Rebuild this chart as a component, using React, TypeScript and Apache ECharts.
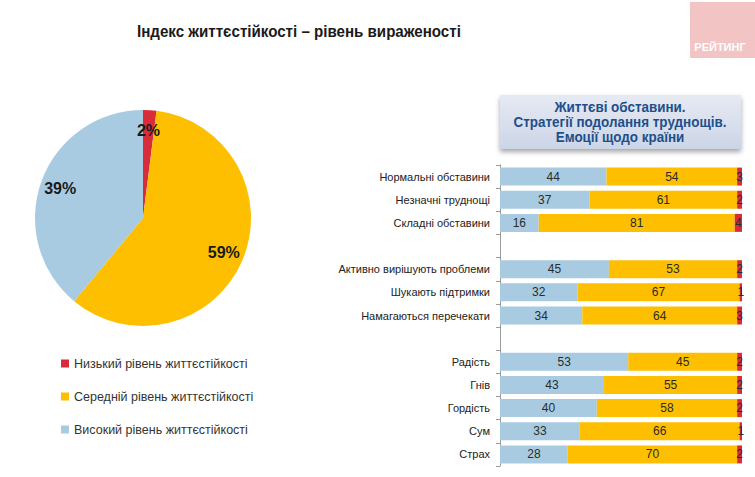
import React, { useEffect, useRef } from "react";
import * as echarts from "echarts";

const pieNames = [
  "Низький рівень життєстійкості",
  "Середній рівень життєстійкості",
  "Високий рівень життєстійкості",
];
const pieValues = [2, 59, 39];

const categories = [
  "Нормальні обставини",
  "Незначні труднощі",
  "Складні обставини",
  "",
  "Активно вирішують проблеми",
  "Шукають підтримки",
  "Намагаються перечекати",
  "",
  "Радість",
  "Гнів",
  "Гордість",
  "Сум",
  "Страх",
];
const highValues = [44, 37, 16, null, 45, 32, 34, null, 53, 43, 40, 33, 28];
const midValues = [54, 61, 81, null, 53, 67, 64, null, 45, 55, 58, 66, 70];
const lowValues = [3, 2, 4, null, 2, 1, 3, null, 2, 2, 2, 1, 2];

const RED = "#d92b3a";
const YELLOW = "#fdbf00";
const BLUE = "#a8cbe2";
const FONT = "'Liberation Sans', Arial, sans-serif";

export default function App() {
  const ref = useRef<HTMLDivElement>(null);
  useEffect(() => {
    const chart = echarts.init(ref.current!, null, { renderer: "svg" });
    const barLabel = {
      show: true,
      position: "inside" as const,
      color: "#2b2b2b",
      fontSize: 12,
      fontFamily: FONT,
    };
    chart.setOption({
      animation: false,
      backgroundColor: "#ffffff",
      textStyle: { fontFamily: FONT },
      legend: {
        data: pieNames,
        orient: "vertical",
        left: 61,
        top: 357,
        padding: 0,
        itemWidth: 8,
        itemHeight: 8,
        itemGap: 20,
        icon: "rect",
        textStyle: { fontSize: 12.5, color: "#333", fontFamily: FONT },
        selectedMode: false,
      },
      grid: { left: 500, right: 13, top: 165, bottom: 11 },
      xAxis: { type: "value", min: 0, max: 100, show: false },
      yAxis: {
        type: "category",
        data: categories,
        inverse: true,
        axisLine: { show: true, lineStyle: { color: "#9a9a9a" } },
        axisTick: { show: true, length: 4, lineStyle: { color: "#9a9a9a" } },
        axisLabel: { fontSize: 11, color: "#222", fontFamily: FONT, margin: 10 },
      },
      graphic: [
        {
          type: "text",
          x: 137,
          y: 31,
          scaleX: 0.89,
          style: {
            text: "Індекс життєстійкості – рівень вираженості",
            align: "left",
            verticalAlign: "middle",
            fill: "#1a1a1a",
            fontSize: 17,
            fontWeight: "bold",
            fontFamily: FONT,
          },
        },
        {
          type: "rect",
          shape: { x: 500, y: 95, width: 241, height: 54 },
          style: {
            fill: new echarts.graphic.LinearGradient(0, 0, 0, 1, [
              { offset: 0, color: "#e6eaf3" },
              { offset: 1, color: "#ccd5e7" },
            ]),
            shadowBlur: 5,
            shadowOffsetY: 3,
            shadowColor: "rgba(0,0,0,0.35)",
          },
        },
        {
          type: "text",
          x: 620,
          y: 122,
          scaleX: 0.96,
          style: {
            text: "Життєві обставини.\nСтратегії подолання труднощів.\nЕмоції щодо країни",
            align: "center",
            verticalAlign: "middle",
            fill: "#1f4f8a",
            fontSize: 14,
            fontWeight: "bold",
            lineHeight: 15,
            fontFamily: FONT,
          },
        },
        {
          type: "rect",
          shape: { x: 690, y: 2, width: 65, height: 56 },
          style: { fill: "#f3c4c4" },
        },
        {
          type: "text",
          x: 720,
          y: 47,
          style: {
            text: "РЕЙТИНГ",
            align: "center",
            verticalAlign: "middle",
            fill: "#ffffff",
            fontSize: 11,
            fontWeight: "bold",
            fontFamily: FONT,
          },
        },
      ],
      series: [
        {
          type: "pie",
          center: [143, 218],
          radius: [0, 108],
          startAngle: 90,
          clockwise: true,
          label: { show: false },
          labelLine: { show: false },
          data: pieNames.map((n, i) => ({
            name: n,
            value: pieValues[i],
            itemStyle: { color: [RED, YELLOW, BLUE][i] },
          })),
        },
        {
          type: "pie",
          center: [143, 218],
          radius: [62, 108],
          startAngle: 90,
          silent: true,
          legendHoverLink: false,
          itemStyle: { color: "transparent" },
          label: {
            show: true,
            position: "inside",
            formatter: "{c}%",
            fontSize: 16,
            fontWeight: "bold",
            color: "#1a1a1a",
            fontFamily: FONT,
          },
          labelLine: { show: false },
          data: pieValues.map((v, i) => ({ name: "_" + i, value: v })),
        },
        {
          type: "bar",
          name: "Високий",
          stack: "s",
          barWidth: 18,
          data: highValues,
          itemStyle: { color: BLUE },
          label: barLabel,
        },
        {
          type: "bar",
          name: "Середній",
          stack: "s",
          barWidth: 18,
          data: midValues,
          itemStyle: { color: YELLOW },
          label: barLabel,
        },
        {
          type: "bar",
          name: "Низький",
          stack: "s",
          barWidth: 18,
          data: lowValues,
          itemStyle: { color: RED },
          label: barLabel,
        },
      ],
    });
    return () => chart.dispose();
  }, []);
  return <div ref={ref} style={{ width: 755, height: 477, position: "absolute", left: 0, top: 0 }} />;
}
